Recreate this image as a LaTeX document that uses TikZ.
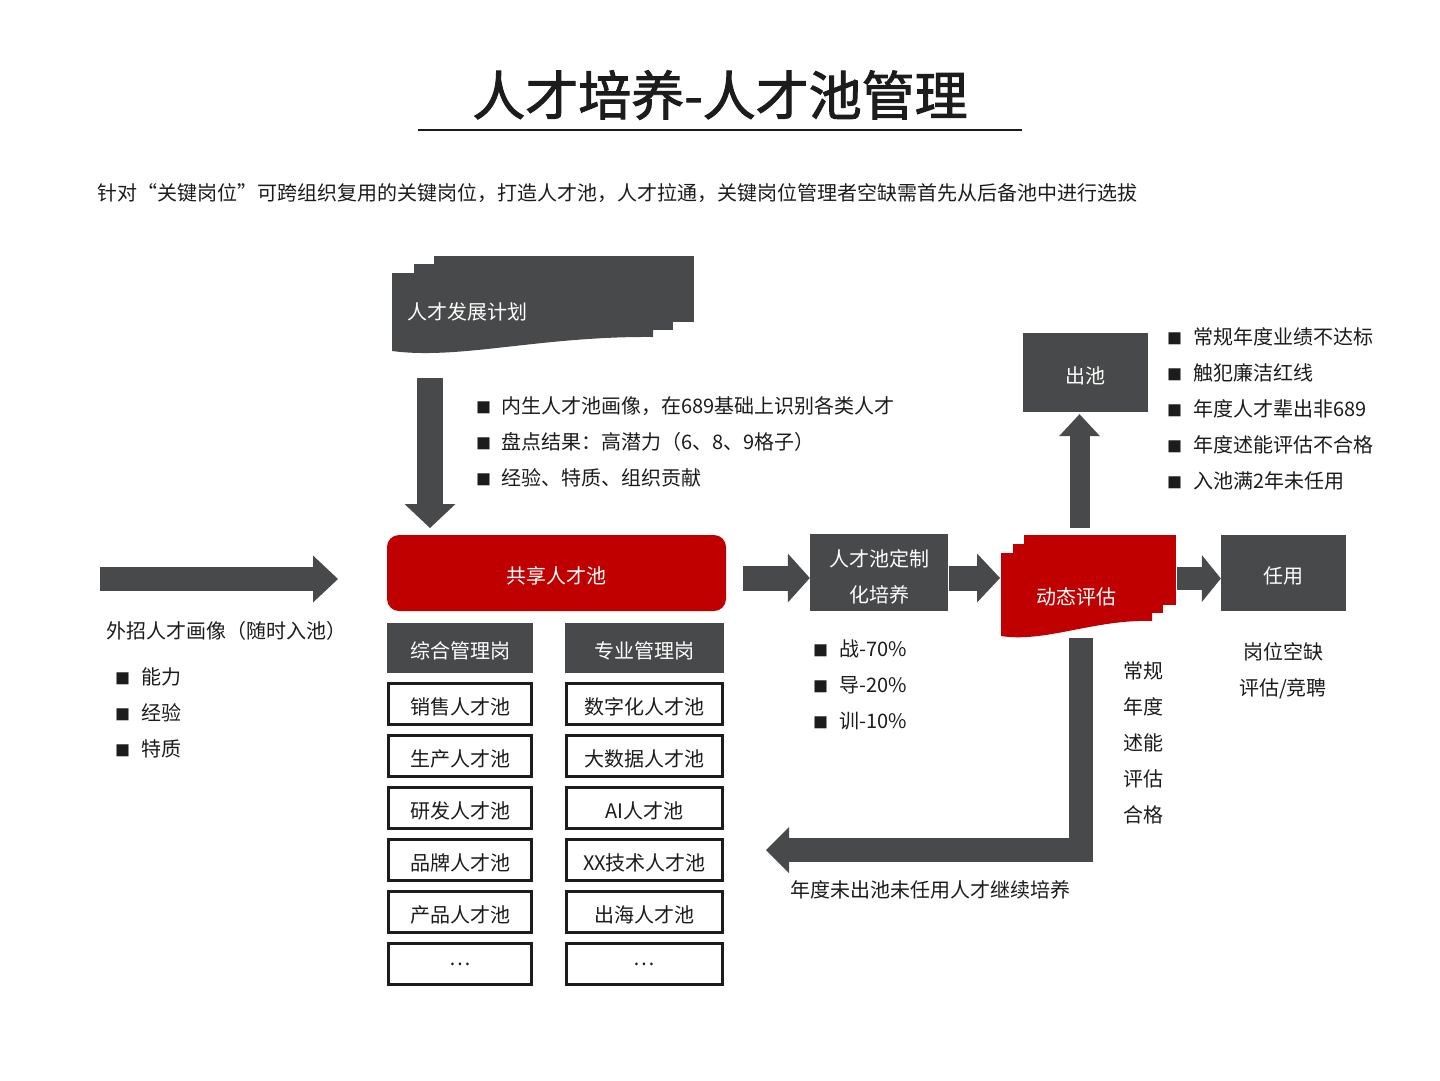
\documentclass[tikz,border=0pt]{standalone}
\usepackage{fontspec}
\setmainfont{Noto Sans CJK SC}
\newfontfamily\titlefont[FakeBold=1.8]{Noto Sans CJK SC}
\usetikzlibrary{arrows.meta}
\definecolor{dg}{RGB}{72,73,74}
\definecolor{rd}{RGB}{192,0,0}
\definecolor{tx}{RGB}{28,28,28}
\newcommand{\bul}{\makebox[25pt][l]{\fontsize{15}{15}\selectfont ■}}
\begin{document}
\begin{tikzpicture}[x=1pt,y=-1pt,
  txt/.style={font=\fontsize{20}{24}\selectfont, text=tx, inner sep=0pt},
  wtxt/.style={txt, text=white},
  low/.style={text height=21pt, text depth=0pt},
  gbox/.style={wtxt, low, fill=dg, minimum width=#1},
  pbox/.style={txt, draw=tx, line width=2.6pt, fill=white, minimum width=#1, minimum height=41pt},
  blk/.style={draw=dg, line width=#1, line join=miter},
  tipA/.style 2 args={-{Triangle[length=#1,width=#2,line width=0pt]}}
]
\useasboundingbox (0,0) rectangle (1440,1080);
\fill[white] (0,0) rectangle (1440,1080);

% title
\node[txt, font=\fontsize{53}{60}\titlefont] (title) at (720,95) {人才培养-人才池管理};
\draw[line width=1.3pt, tx] (418,130) coordinate (ul0) -- (1022,130) coordinate (ul1);
\node[txt, anchor=west] (sub) at (97,193) {针对“关键岗位”可跨组织复用的关键岗位，打造人才池，人才拉通，关键岗位管理者空缺需首先从后备池中进行选拔};

% plan multi-document
\fill[dg] (434,256) rectangle (694,322);
\fill[dg] (414,264) rectangle (673,330);
\fill[dg] (392,273) -- (653,273) -- (653,337) .. controls (540,336) and (460,360) .. (392,351) -- cycle;
\node[wtxt, anchor=west] (plan) at (407,312) {人才发展计划};

% down arrow
\coordinate (d0) at (430,378);
\coordinate (d1) at (430,528);
\draw[blk=26pt, tipA={24pt}{51pt}] (d0) -- (d1);

% middle bullets
\foreach \t [count=\i from 0] in {内生人才池画像，在689基础上识别各类人才, 盘点结果：高潜力（6、8、9格子）, 经验、特质、组织贡献}
  \node[txt, anchor=west] (mb\i) at (476,406+36*\i) {\bul\t};

% shared pool
\node[wtxt, low, fill=rd, rounded corners=12pt, minimum width=339pt, minimum height=76pt] (pool) at (556.5,573) {共享人才池};

% left incoming arrow
\coordinate (l0) at (100,579);
\coordinate (l1) at (338,579);
\draw[blk=24pt, tipA={25pt}{47pt}] (l0) -- (l1);
\node[txt, anchor=west] (ext) at (106,631) {外招人才画像（随时入池）};
\foreach \t [count=\i from 0] in {能力, 经验, 特质}
  \node[txt, anchor=west] (lb\i) at (115,677+36*\i) {\makebox[26pt][l]{\fontsize{15}{15}\selectfont ■}\t};

% columns
\node[gbox=146pt, minimum height=50pt] (h1) at (460,648) {综合管理岗};
\node[gbox=159pt, minimum height=50pt] (h2) at (644.5,648) {专业管理岗};
\foreach \a/\b [count=\i from 0] in {销售人才池/数字化人才池, 生产人才池/大数据人才池, 研发人才池/AI人才池, 品牌人才池/XX技术人才池, 产品人才池/出海人才池} {
  \node[pbox=143pt, low] (L\i) at (460,704+52*\i) {\a};
  \node[pbox=156pt, low] (R\i) at (644.5,704+52*\i) {\b};
}
\node[pbox=143pt] (L5) at (460,964) {…};
\node[pbox=156pt] (R5) at (644.5,964) {…};

% training box
\node[fill=dg, minimum width=138pt, minimum height=77pt] (train) at (879,572.5) {};
\node[wtxt, align=center, font=\fontsize{20}{36}\selectfont] (traintxt) at (879,576.5) {人才池定制\\化培养};
\coordinate (a0) at (743,578);
\draw[blk=25pt, tipA={22pt}{49pt}] (a0) -- (train.west |- a0);
\foreach \t [count=\i from 0] in {战-70\%, 导-20\%, 训-10\%}
  \node[txt, anchor=west] (tb\i) at (813,649+36*\i) {\makebox[26pt][l]{\fontsize{15}{15}\selectfont ■}\t};

% dynamic evaluation multi-document
\fill[rd] (1024,535) rectangle (1176,605);
\fill[rd] (1013,544) rectangle (1163,613);
\fill[rd] (1001,553) -- (1152,553) -- (1152,621) .. controls (1095,619) and (1045,643) .. (1001,636) -- cycle;
\node[wtxt] (eval) at (1076,597) {动态评估};
\coordinate (b0) at (949,578);
\coordinate (b1) at (1000,578);
\draw[blk=25pt, tipA={23pt}{49pt}] (b0) -- (b1);

% use box
\node[gbox=125pt, minimum height=76pt] (use) at (1283.5,573) {任用};
\coordinate (c0) at (1177,578.5);
\draw[blk=23pt, tipA={19pt}{47pt}] (c0) -- (use.west |- c0);
\node[txt, align=center, font=\fontsize{20}{36}\selectfont] (usetxt) at (1283,671) {岗位空缺\\评估/竞聘};

% out box
\node[gbox=125pt, minimum height=79pt] (out) at (1085.5,372.5) {出池};
\coordinate (u0) at (1079.5,528);
\draw[blk=20pt, tipA={22pt}{41pt}] (u0) -- ([yshift=-2pt]out.south -| u0);
\foreach \t [count=\i from 0] in {常规年度业绩不达标, 触犯廉洁红线, 年度人才辈出非689, 年度述能评估不合格, 入池满2年未任用}
  \node[txt, anchor=west] (rb\i) at (1167,337+36*\i) {\makebox[26pt][l]{\fontsize{15}{15}\selectfont ■}\t};

% vertical label
\node[txt, align=center, font=\fontsize{20}{36}\selectfont] (vlab) at (1143,743) {常规\\年度\\述能\\评估\\合格};

% return arrow
\coordinate (r0) at (1080.5,638);
\coordinate (r1) at (766,850);
\draw[blk=24pt, tipA={23pt}{46pt}] (r0) |- (r1);
\node[txt] (rettxt) at (930,890) {年度未出池未任用人才继续培养};
\end{tikzpicture}
\end{document}
